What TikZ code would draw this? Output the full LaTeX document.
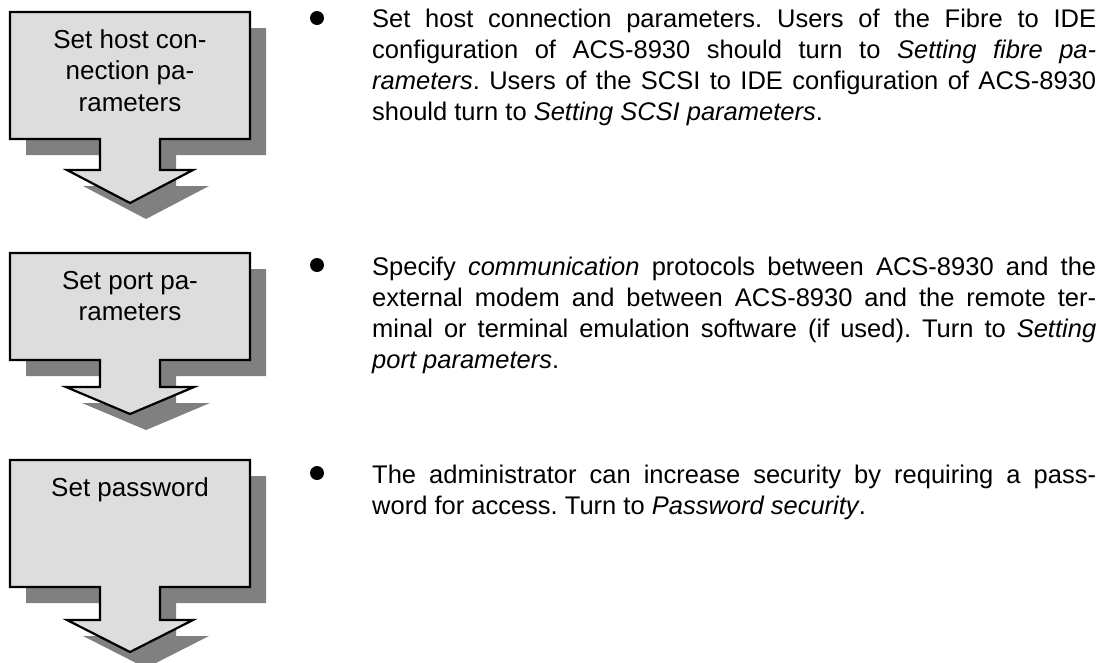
\documentclass[tikz,border=0pt]{standalone}
\usepackage{fontspec}
\setmainfont{Liberation Sans}
\usepackage{xcolor}
\usepackage{tikz}
\usetikzlibrary{shadows}
\definecolor{stepgray}{HTML}{DDDDDD}
\definecolor{shadowgray}{HTML}{808080}
\frenchspacing

\begin{document}
\begin{tikzpicture}[x=1pt, y=-1pt,
    stepshape/.style={draw=black, line width=2.2pt, fill=stepgray, line join=miter,
        drop shadow={shadow xshift=16pt, shadow yshift=-16pt, fill=shadowgray, opacity=1}},
    steplabel/.style={font=\fontsize{26}{31.5}\selectfont, align=center, anchor=north, inner sep=0pt},
    bodytext/.style={font=\fontsize{25.5}{31}\selectfont, text width=724pt, align=justify, anchor=base west, inner sep=0pt},
    bulletdot/.style={circle, fill=black, inner sep=0pt, minimum size=14pt}]
    \useasboundingbox (0,0) rectangle (1104,662);

    % Step arrows
    \path[stepshape] (10,12) -- (250,12) -- (250,139) -- (160,139) -- (160,170) -- (193,170) -- (130,203) -- (67,170) -- (100,170) -- (100,139) -- (10,139) -- cycle;
    \path[stepshape] (10,253) -- (250,253) -- (250,360) -- (160,360) -- (160,387) -- (194,387) -- (130,414) -- (66,387) -- (100,387) -- (100,360) -- (10,360) -- cycle;
    \path[stepshape] (10,460) -- (250,460) -- (250,587) -- (160,587) -- (160,620) -- (193,620) -- (130,652) -- (67,620) -- (100,620) -- (100,587) -- (10,587) -- cycle;

    % Step labels
    \node[steplabel] (hostlabel) at (130,29) {Set host con-\\nection pa-\\rameters};
    \node[steplabel] (portlabel) at (130,271) {Set port pa-\\rameters};
    \node[steplabel] (passlabel) at (130,477) {Set password};

    % Bullets and descriptions
    \node[bulletdot] (hostdot) at (317,18) {};
    \node[bodytext] (hosttext) at (372,27) {\hbadness=10000 Set host connection parameters. Users of the Fibre to IDE\linebreak configuration of ACS-8930 should turn to \textit{Setting fibre pa-\linebreak rameters}. Users of the SCSI to IDE configuration of ACS-8930\linebreak should turn to \textit{Setting SCSI parameters}.};

    \node[bulletdot] (portdot) at (317,265) {};
    \node[bodytext] (porttext) at (372,275) {\hbadness=10000 Specify \textit{communication} protocols between ACS-8930 and the\linebreak external modem and between ACS-8930 and the remote ter-\linebreak minal or terminal emulation software (if used). Turn to \textit{Setting}\linebreak \textit{port parameters}.};

    \node[bulletdot] (passdot) at (317,473) {};
    \node[bodytext] (passtext) at (372,483) {\hbadness=10000 The administrator can increase security by requiring a pass-\linebreak word for access. Turn to \textit{Password security}.};
\end{tikzpicture}
\end{document}
